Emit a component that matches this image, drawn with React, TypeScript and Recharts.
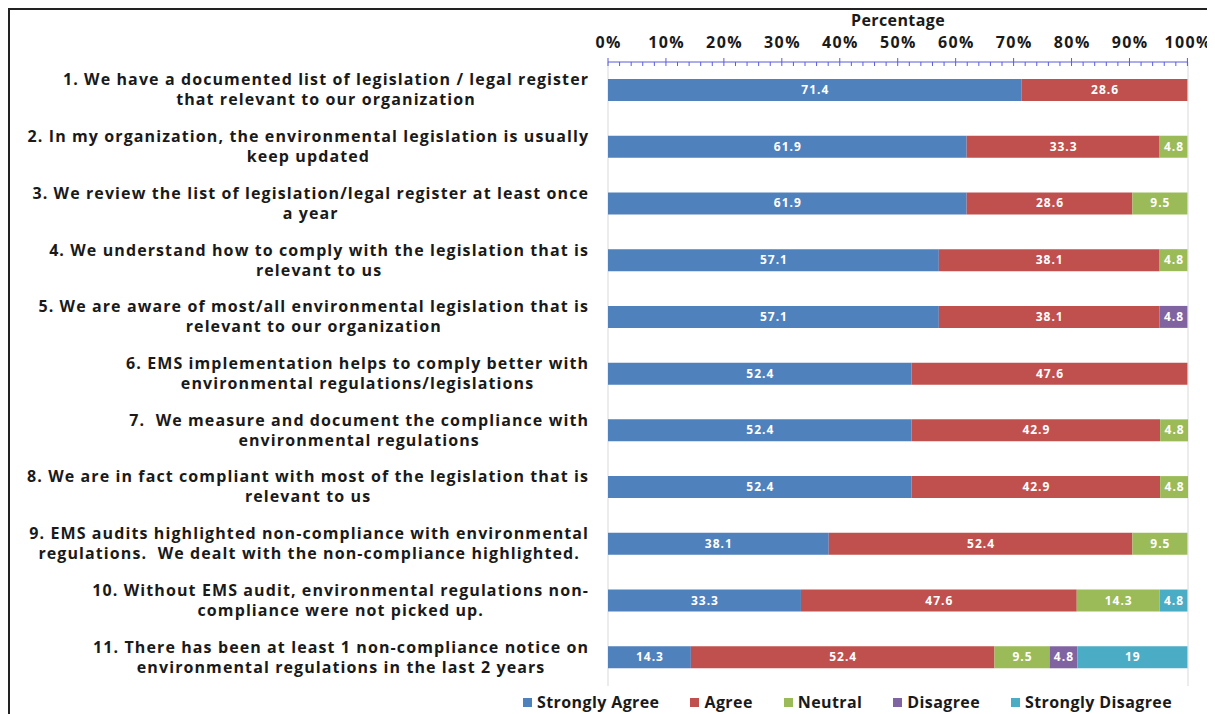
import { BarChart, Bar, XAxis, YAxis, CartesianGrid, Legend, LabelList } from "recharts";

const questions = [
  "1. We have a documented list of legislation / legal register\nthat relevant to our organization",
  "2. In my organization, the environmental legislation is usually\nkeep updated",
  "3. We review the list of legislation/legal register at least once\na year",
  "4. We understand how to comply with the legislation that is\nrelevant to us",
  "5. We are aware of most/all environmental legislation that is\nrelevant to our organization",
  "6. EMS implementation helps to comply better with\nenvironmental regulations/legislations",
  "7.  We measure and document the compliance with\nenvironmental regulations",
  "8. We are in fact compliant with most of the legislation that is\nrelevant to us",
  "9. EMS audits highlighted non-compliance with environmental\nregulations.  We dealt with the non-compliance highlighted.",
  "10. Without EMS audit, environmental regulations non-\ncompliance were not picked up.",
  "11. There has been at least 1 non-compliance notice on\nenvironmental regulations in the last 2 years",
];

const stronglyAgree = [71.4, 61.9, 61.9, 57.1, 57.1, 52.4, 52.4, 52.4, 38.1, 33.3, 14.3];
const agree = [28.6, 33.3, 28.6, 38.1, 38.1, 47.6, 42.9, 42.9, 52.4, 47.6, 52.4];
const neutral = [0, 4.8, 9.5, 4.8, 0, 0, 4.8, 4.8, 9.5, 14.3, 9.5];
const disagree = [0, 0, 0, 0, 4.8, 0, 0, 0, 0, 0, 4.8];
const stronglyDisagree = [0, 0, 0, 0, 0, 0, 0, 0, 0, 4.8, 19];

const seriesNames = ["Strongly Agree", "Agree", "Neutral", "Disagree", "Strongly Disagree"];
const seriesKeys = ["sa", "a", "n", "d", "sd"];
const seriesColors = ["#4F81BD", "#C0504D", "#9BBB59", "#8064A2", "#4BACC6"];

const majorTicks = [0, 10, 20, 30, 40, 50, 60, 70, 80, 90, 100];
const minorTicks = [
  0, 2, 4, 6, 8, 10, 12, 14, 16, 18, 20, 22, 24, 26, 28, 30, 32, 34, 36, 38, 40,
  42, 44, 46, 48, 50, 52, 54, 56, 58, 60, 62, 64, 66, 68, 70, 72, 74, 76, 78, 80,
  82, 84, 86, 88, 90, 92, 94, 96, 98, 100,
];

const data = questions.map((q, i) => ({
  q,
  sa: stronglyAgree[i],
  a: agree[i],
  n: neutral[i],
  d: disagree[i],
  sd: stronglyDisagree[i],
}));

const FONT = "'Open Sans', sans-serif";
const LABEL_FONT = `bold 16px ${FONT}`;
const LABEL_LS = 1.1;

let ctx: CanvasRenderingContext2D | null = null;
function textWidth(s: string) {
  if (!ctx) ctx = document.createElement("canvas").getContext("2d");
  if (!ctx) return s.length * 9.5;
  ctx.font = LABEL_FONT;
  // visible width including letter spacing between glyphs
  return ctx.measureText(s).width + (s.length - 1) * LABEL_LS;
}

function QuestionTick(props: any) {
  const { x, y, payload } = props;
  const lines: string[] = String(payload.value).split("\n");
  const maxW = Math.max(...lines.map(textWidth));
  const cx = x - maxW / 2 + LABEL_LS / 2;
  return (
    <g>
      {lines.map((line, i) => (
        <text
          key={i}
          x={cx}
          y={y + (i - (lines.length - 1) / 2) * 20}
          dy={5}
          textAnchor="middle"
          fill="#1a1a1a"
          style={{ font: LABEL_FONT, letterSpacing: LABEL_LS, whiteSpace: "pre" }}
        >
          {line}
        </text>
      ))}
    </g>
  );
}

function PercentTick(props: any) {
  const { x, y, payload } = props;
  const v = payload.value;
  const major = v % 10 === 0;
  return (
    <g>
      <line x1={x} x2={x} y1={major ? y - 4 : y} y2={y + 4} stroke="#5b5bdc" strokeWidth={1} />
      {major && (
        <text
          x={x + 0.7}
          y={y - 14}
          textAnchor="middle"
          fill="#1a1a1a"
          style={{ font: `bold 16px ${FONT}`, letterSpacing: 1.4 }}
        >
          {v}%
        </text>
      )}
    </g>
  );
}

function BarValue(props: any) {
  const { x, y, width, height, value } = props;
  if (!value) return null;
  return (
    <text
      x={x + width / 2 + 0.5}
      y={y + height / 2}
      dy={4}
      textAnchor="middle"
      fill="#ffffff"
      style={{ font: `bold 12px ${FONT}`, letterSpacing: 1 }}
    >
      {value}
    </text>
  );
}

function LegendContent() {
  return (
    <div
      style={{
        display: "flex",
        alignItems: "center",
        height: 28,
        paddingLeft: 513,
        paddingTop: 4,
        fontFamily: FONT,
        fontWeight: 700,
        fontSize: 16,
        letterSpacing: 0.4,
        color: "#1a1a1a",
        whiteSpace: "nowrap",
        width: 1205,
        boxSizing: "border-box",
      }}
    >
      {seriesNames.map((name, i) => (
        <div key={name} style={{ display: "flex", alignItems: "center", marginRight: 31, flexShrink: 0 }}>
          <span style={{ width: 9, height: 9, background: seriesColors[i], marginRight: 5, flexShrink: 0 }} />
          <span>{name}</span>
        </div>
      ))}
    </div>
  );
}

export default function App() {
  return (
    <div
      style={{
        width: 1207,
        height: 706,
        borderTop: "2px solid #222",
        borderLeft: "2px solid #222",
        boxSizing: "border-box",
        fontFamily: FONT,
        background: "#fff",
      }}
    >
      <BarChart
        width={1205}
        height={704}
        data={data}
        layout="vertical"
        margin={{ top: 0, right: 27, bottom: 0, left: 0 }}
        barSize={22}
      >
        <CartesianGrid xAxisId="grid" horizontal={false} stroke="#d9d9d9" />
        <XAxis xAxisId="grid" type="number" domain={[0, 100]} ticks={majorTicks} hide />
        <XAxis
          type="number"
          orientation="top"
          domain={[0, 100]}
          ticks={minorTicks}
          interval={0}
          height={52}
          tickSize={0}
          tickMargin={0}
          tickLine={false}
          stroke="#5b5bdc"
          tick={<PercentTick />}
          label={{
            value: "Percentage",
            position: "insideTop",
            offset: 5,
            fill: "#1a1a1a",
            style: { font: `bold 16px ${FONT}`, letterSpacing: 0.4 },
          }}
        />
        <YAxis
          type="category"
          dataKey="q"
          width={598}
          axisLine={false}
          tickLine={false}
          tickSize={0}
          tickMargin={20}
          interval={0}
          tick={<QuestionTick />}
        />
        <Legend
          verticalAlign="bottom"
          wrapperStyle={{ left: 0, width: 1205 }}
          content={<LegendContent />}
        />
        {seriesKeys.map((k, i) => (
          <Bar key={k} dataKey={k} name={seriesNames[i]} stackId="s" fill={seriesColors[i]} isAnimationActive={false}>
            <LabelList dataKey={k} content={<BarValue />} />
          </Bar>
        ))}
      </BarChart>
    </div>
  );
}
